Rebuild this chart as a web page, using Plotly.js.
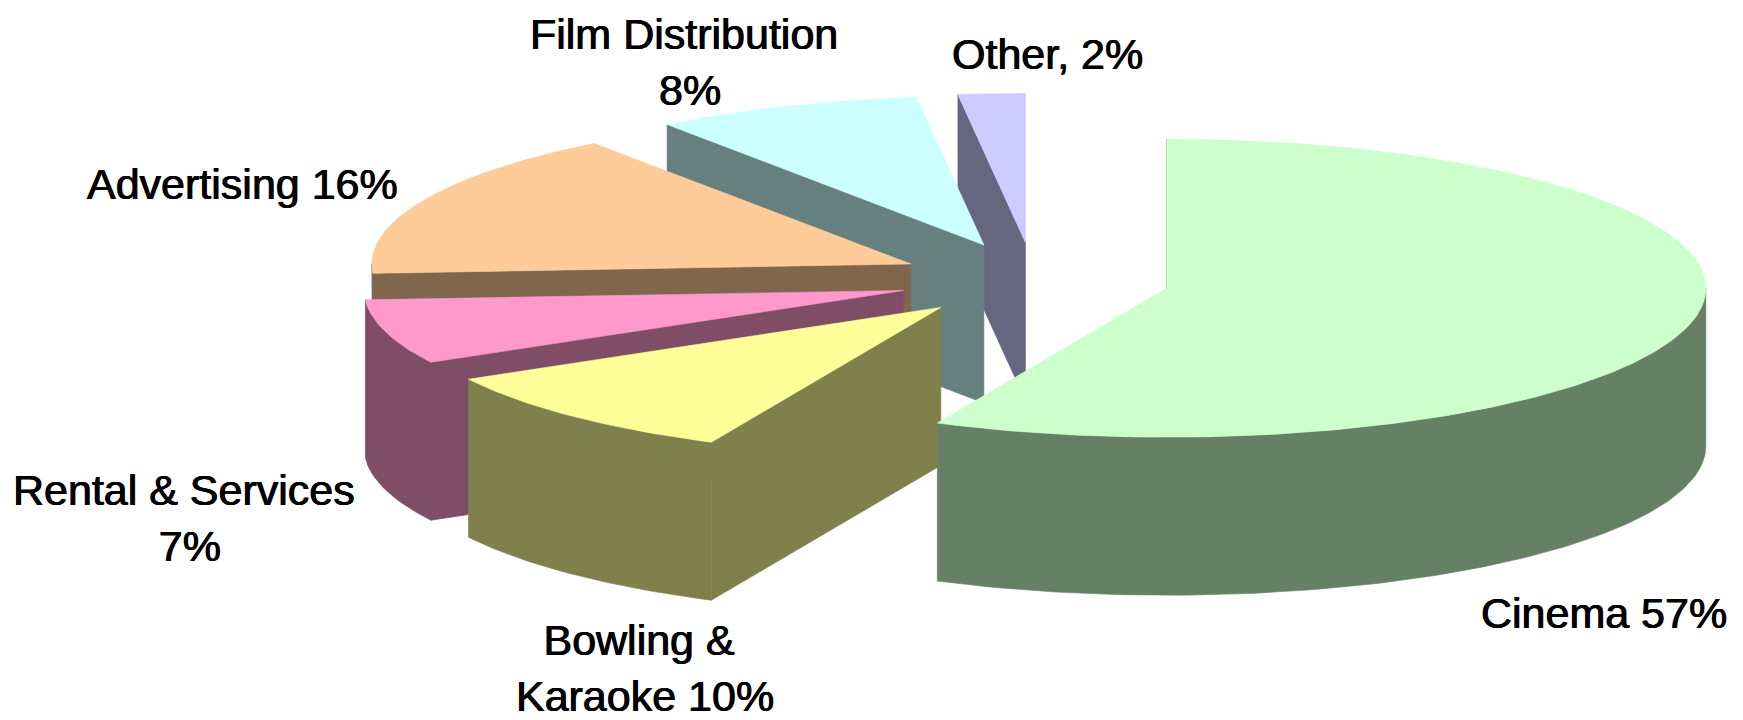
<!DOCTYPE html>
<html>
<head>
<meta charset="utf-8">
<script src="https://cdn.plot.ly/plotly-3.0.1.min.js"></script>
<style>html,body{margin:0;padding:0;background:#fff}#chart{width:1743px;height:720px}</style>
</head>
<body>
<div id="chart"></div>
<script>
// Data, clockwise from 12 o'clock
const categories = ["Cinema", "Bowling & Karaoke", "Rental & Services", "Advertising", "Film Distribution", "Other"];
const shares = [57, 10, 7, 16, 8, 2];
const labelTexts = ["Cinema 57%", "Bowling &<br>&nbsp;Karaoke 10%", "Rental & Services<br>&nbsp;7%", "Advertising 16%", "Film Distribution<br>&nbsp;8%", "Other, 2%"];

// Style
const topColors = ["#CCFFCC", "#FFFF99", "#FF99CC", "#FFCC99", "#CCFFFF", "#CCCCFF"];
const wallColors = ["#668066", "#80804D", "#804D66", "#80664D", "#668080", "#666680"];

// Projection of the tilted pie
const pieX = 1034, pieY = 280, radiusX = 539, radiusY = 149, depth = 158, explode = 0.2525;
const labelX = [1604, 639, 184, 242, 684, 1047];
const labelY = [613, 668, 518, 184, 62, 54];

const total = shares.reduce((a, b) => a + b, 0);
const rad = d => d * Math.PI / 180;
const rim = (deg, ox, oy, drop) => [ox + radiusX * Math.sin(rad(deg)), oy - radiusY * Math.cos(rad(deg)) + drop];
const arc = (a, b, ox, oy, drop) => {
  const pts = [], n = Math.max(2, Math.ceil(Math.abs(b - a)));
  for (let i = 0; i <= n; i++) pts.push(rim(a + (b - a) * i / n, ox, oy, drop));
  return pts;
};
const poly = (pts, color) => ({
  type: "scatter", mode: "lines", hoverinfo: "skip", showlegend: false,
  x: pts.map(p => p[0]), y: pts.map(p => p[1]),
  fill: "toself", fillcolor: color, line: {color: color, width: 0.6}
});

const slices = [];
let cum = 0;
shares.forEach((v, i) => {
  const start = cum / total * 360, end = (cum + v) / total * 360, mid = (start + end) / 2;
  cum += v;
  const ox = pieX + explode * radiusX * Math.sin(rad(mid));
  const oy = pieY - explode * radiusY * Math.cos(rad(mid));
  slices.push({i, start, end, ox, oy});
});

const traces = [];
// Painted from back to front; the large slice comes last
[5, 4, 3, 2, 1, 0].forEach(k => {
  const s = slices[k];
  const a0 = rim(s.start, s.ox, s.oy, 0), a1 = rim(s.start, s.ox, s.oy, depth);
  traces.push(poly([[s.ox, s.oy], a0, a1, [s.ox, s.oy + depth], [s.ox, s.oy]], wallColors[s.i]));
  const lo = Math.max(s.start, 90), hi = Math.min(s.end, 270);
  if (hi > lo) {
    const up = arc(lo, hi, s.ox, s.oy, 0), down = arc(hi, lo, s.ox, s.oy, depth);
    traces.push(poly(up.concat(down, [up[0]]), wallColors[s.i]));
  }
  const top = [[s.ox, s.oy]].concat(arc(s.start, s.end, s.ox, s.oy, 0), [[s.ox, s.oy]]);
  traces.push(poly(top, topColors[s.i]));
});

const annotations = labelTexts.map((t, i) => ({
  x: labelX[i], y: labelY[i], xref: "x", yref: "y", text: t, showarrow: false,
  xanchor: "center", yanchor: "middle", align: "center",
  font: {family: "'Liberation Sans', Arial, sans-serif", size: 43, color: "#000",
         shadow: "0.5px 0 0 #000, -0.5px 0 0 #000"}
}));

Plotly.newPlot("chart", traces, {
  width: 1743, height: 720, margin: {l: 0, r: 0, t: 0, b: 0},
  paper_bgcolor: "#fff", plot_bgcolor: "#fff", showlegend: false, hovermode: false,
  xaxis: {range: [0, 1743], visible: false, fixedrange: true},
  yaxis: {range: [720, 0], visible: false, fixedrange: true},
  annotations
}, {displayModeBar: false, staticPlot: true});
</script>
</body>
</html>
